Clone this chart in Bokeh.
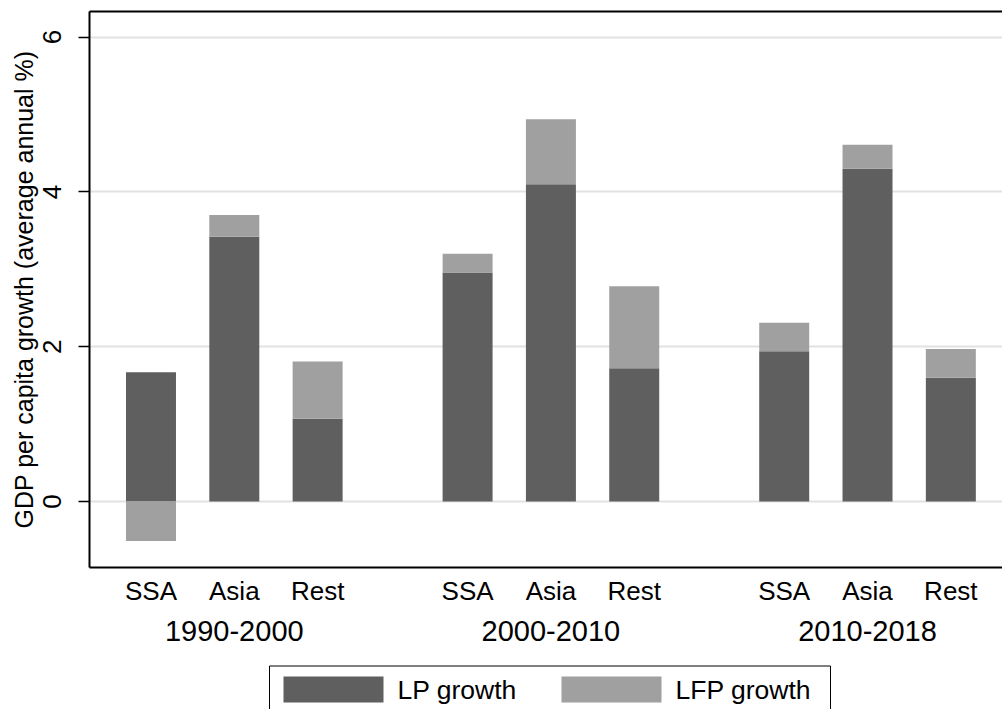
from bokeh.plotting import figure
from bokeh.layouts import column
from bokeh.core.properties import value
from bokeh.models import (Range1d, FixedTicker, LinearAxis, CustomJSTickFormatter, Title)
from bokeh.embed import file_html
from bokeh.resources import INLINE

# ---- data ----
periods = ["1990-2000", "2000-2010", "2010-2018"]
regions = ["SSA", "Asia", "Rest"]
lp_growth = [1.67, 3.42, 1.07, 2.96, 4.10, 1.72, 1.94, 4.30, 1.60]
lfp_growth = [-0.51, 0.28, 0.74, 0.24, 0.84, 1.06, 0.37, 0.31, 0.37]
y_ticks = [0, 2, 4, 6]
series_names = ["LP growth", "LFP growth"]

FONT = "Liberation Sans"
DARK = "#5f5f5f"
LIGHT = "#a0a0a0"
series_colors = [DARK, LIGHT]

# positions (slot spacing 10, group step 38)
xs, xlabels = [], []
for g in range(len(periods)):
    for r in range(len(regions)):
        xs.append(g * 38 + r * 10)
        xlabels.append(regions[r])
group_centers = [sum(xs[g * 3:(g + 1) * 3]) / 3 for g in range(len(periods))]

lfp_bottom = [lp if v >= 0 else 0 for lp, v in zip(lp_growth, lfp_growth)]
lfp_top = [lp + v if v >= 0 else v for lp, v in zip(lp_growth, lfp_growth)]

H1 = 655
p = figure(width=1002, height=H1, x_range=Range1d(-7.38, 102.2),
           y_range=Range1d(-0.853, 6.331), output_backend="svg",
           toolbar_location=None, min_border_left=89, min_border_top=11,
           min_border_right=0, min_border_bottom=H1 - 567)
p.outline_line_color = None
p.background_fill_color = "white"
p.border_fill_color = "white"

r1 = p.vbar(x=xs, bottom=0, top=lp_growth, width=6, fill_color=DARK, line_color=None)
r2 = p.vbar(x=xs, bottom=lfp_bottom, top=lfp_top, width=6, fill_color=LIGHT, line_color=None)

# grid
p.xgrid.visible = False
p.ygrid.ticker = FixedTicker(ticks=y_ticks)
p.ygrid.grid_line_color = "#e2e2e2"
p.ygrid.grid_line_width = 2

# y axis
yax = p.yaxis[0]
yax.ticker = FixedTicker(ticks=y_ticks)
yax.major_label_text_font = FONT
yax.major_label_text_font_size = "26px"
yax.major_label_text_color = "black"
yax.major_label_orientation = "vertical"
yax.major_label_standoff = 17
yax.major_tick_out = 11
yax.major_tick_in = 0
yax.major_tick_line_width = 1.5
yax.major_tick_line_color = "black"
yax.minor_tick_line_color = None
yax.axis_line_width = 2
yax.axis_line_color = "black"

ytitle = Title(text="GDP per capita growth (average annual %)", align="center", offset=13,
               text_font=FONT, text_font_size="25px", text_font_style="normal",
               text_color="black", standoff=5)
p.add_layout(ytitle, "left")

JS = "const i = pos.indexOf(tick); return i >= 0 ? names[i] : '';"

# x axis (regions)
xax = p.xaxis[0]
xax.ticker = FixedTicker(ticks=xs)
xax.formatter = CustomJSTickFormatter(args=dict(pos=xs, names=xlabels), code=JS)
xax.major_tick_line_color = None
xax.minor_tick_line_color = None
xax.major_label_text_font = FONT
xax.major_label_text_font_size = "26px"
xax.major_label_text_color = "black"
xax.major_label_standoff = 2
xax.axis_line_width = 2
xax.axis_line_color = "black"

# period axis
pax = LinearAxis(ticker=FixedTicker(ticks=group_centers),
                 formatter=CustomJSTickFormatter(args=dict(pos=group_centers, names=periods), code=JS),
                 axis_line_color=None, major_tick_line_color=None, minor_tick_line_color=None,
                 major_label_text_font=FONT, major_label_text_font_size="29px",
                 major_label_text_color="black", major_label_standoff=6)
p.add_layout(pax, "below")

# top line
tax = LinearAxis(ticker=FixedTicker(ticks=[]), axis_line_width=2, axis_line_color="black",
                 major_tick_line_color=None, minor_tick_line_color=None,
                 major_label_text_font_size="0px", major_label_standoff=0,
                 major_tick_out=0, major_tick_in=0)
p.add_layout(tax, "above")

# legend strip (page-pixel coordinates, y downward; frame aligned with main frame)
H2 = 709 - H1
q = figure(width=1002, height=H2, x_range=Range1d(89, 1002), y_range=Range1d(709, H1),
           output_backend="svg", toolbar_location=None, x_axis_location=None,
           y_axis_location=None, min_border=0)
q.outline_line_color = None
q.xgrid.visible = False
q.ygrid.visible = False
q.background_fill_color = "white"
q.border_fill_color = "white"

q.quad(left=[269], right=[830], top=[665.5], bottom=[720], fill_color=None,
       line_color="black", line_width=1)
sw_left = [283, 561]
q.quad(left=sw_left, right=[v + 100 for v in sw_left], top=676, bottom=702,
       fill_color=series_colors, line_color=None)
q.text(x=[v + 114 for v in sw_left], y=[689, 689], text=series_names,
       text_baseline="middle", text_align="left", text_font=value(FONT),
       text_font_size="26.5px", text_color="black")

open("out.html", "w").write(file_html(column(p, q, spacing=0), INLINE))
